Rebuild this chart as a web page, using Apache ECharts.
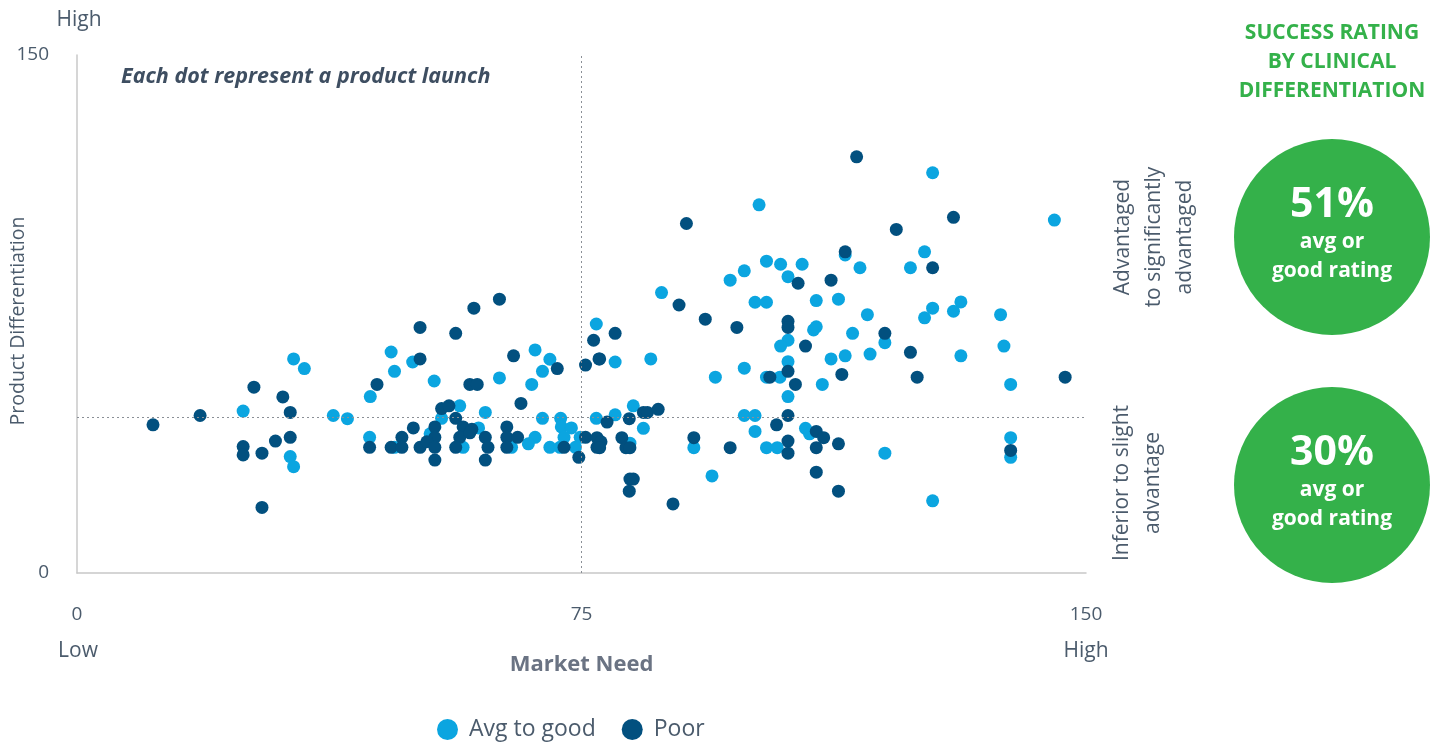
<!DOCTYPE html>
<html>
<head>
<meta charset="utf-8">
<script src="https://cdn.jsdelivr.net/npm/echarts@6/dist/echarts.min.js"></script>
<style>html,body{margin:0;padding:0;background:#fff;}#c{width:1446px;height:744px;}</style>
</head>
<body>
<div id="c"></div>
<script>
const xTicks = [0, 75, 150];
const yTicks = [0, 150];
const seriesNames = ['Avg to good', 'Poor'];
const refX = 75;
const refY = 45;
const ratings = ['51%', '30%'];
const zoneLabels = ['Advantaged\nto significantly\nadvantaged', 'Inferior to slight\nadvantage'];

const avgGood = [
 [32.2,62.0],[33.8,59.2],[24.7,46.9],[38.1,45.6],[40.2,44.7],[31.7,33.7],[32.2,30.8],[43.6,51.1],[43.5,39.3],
 [46.7,64.0],[49.9,61.1],[47.2,58.4],[68.1,64.6],[70.3,61.9],[69.2,58.4],[53.1,55.6],[62.8,56.5],[67.6,54.6],
 [56.9,48.4],[60.7,46.5],[54.2,44.8],[69.2,44.8],[71.9,44.8],[77.2,44.8],[77.2,72.1],[59.7,42.0],[72.0,42.3],
 [73.5,42.0],[52.5,40.3],[68.1,39.3],[72.4,39.3],[74.8,39.3],[47.2,36.4],[57.4,36.4],[64.6,36.4],[67.1,37.4],
 [70.3,36.4],[71.8,36.4],[74.1,36.4],
 [101.4,106.6],[102.5,90.3],[104.6,89.4],[107.8,89.4],[99.2,87.5],[97.1,84.8],[105.7,85.8],[86.9,81.2],
 [100.8,78.4],[102.5,78.4],[109.9,78.9],[109.5,70.4],[109.9,71.3],[105.7,67.4],[104.6,65.7],[80.0,61.1],
 [85.3,62.0],[99.2,59.3],[105.7,61.2],[94.9,56.7],[102.5,56.7],[104.5,56.7],
 [110.8,54.6],[105.7,51.1],[82.7,48.4],[80.0,45.8],[84.2,41.9],[99.2,45.6],[100.8,45.6],[100.8,41.0],
 [108.3,41.9],[108.9,40.3],[82.2,37.6],[91.7,36.3],[102.5,36.3],[104.1,36.3],[94.4,28.1],
 [127.2,115.9],[145.3,102.2],[114.2,92.1],[126.0,93.0],[116.4,88.4],[123.9,88.4],[113.2,79.3],[117.5,74.8],
 [127.2,76.7],[126.0,73.9],[131.4,78.5],[130.3,75.8],[137.3,74.8],[115.3,69.4],[120.1,66.7],[114.2,62.9],
 [112.1,62.0],[117.9,63.4],[131.4,62.9],[137.8,65.7],
 [138.8,54.6],[120.1,34.7],[138.8,39.2],[138.8,33.5],[127.2,20.9]
];

const poor = [
 [26.3,53.8],[30.6,51.0],[31.7,46.5],[18.3,45.6],[11.3,42.9],[31.7,39.3],[29.5,38.2],[24.7,36.6],[24.7,34.2],
 [27.5,34.7],[27.5,19.0],[43.5,36.4],[62.8,79.3],[59.0,76.7],[51.0,71.1],[56.3,69.4],[51.0,62.0],[64.9,62.9],
 [71.4,59.2],[44.6,54.6],[58.4,54.6],[59.5,54.6],[66.0,49.1],[54.2,47.6],[55.3,48.4],[56.3,44.8],[76.8,67.4],
 [77.6,62.0],[75.6,60.2],[50.0,42.0],[53.2,42.3],[57.4,42.3],[58.7,41.6],[63.9,42.3],[48.3,39.3],[53.2,39.3],
 [56.9,39.3],[58.4,40.6],[60.7,39.3],[63.9,39.3],[65.5,39.3],[75.6,39.3],[46.7,36.4],[48.3,36.4],[51.0,36.4],
 [52.0,38.0],[53.2,36.4],[56.3,36.4],[61.1,36.4],[63.9,36.4],[72.4,36.4],[77.3,36.4],[53.2,32.7],[60.7,32.7],
 [74.6,33.5],
 [90.6,101.2],[107.2,83.9],[89.5,77.6],[93.4,73.5],[98.1,71.1],[105.7,72.9],[105.7,71.1],[80.0,69.4],
 [108.3,65.7],[77.7,62.0],[105.7,58.4],[103.0,56.7],
 [106.8,54.6],[78.8,43.7],[82.1,44.7],[84.2,46.5],[84.8,46.5],[86.4,47.4],[105.7,45.6],[104.0,42.9],
 [109.9,41.0],[77.3,39.2],[77.9,38.0],[81.0,39.2],[77.7,36.3],[81.6,36.3],[82.2,36.3],[91.7,39.2],[97.1,36.3],
 [105.7,38.2],[105.7,34.7],[109.9,36.3],[109.9,29.2],[82.2,27.2],[82.7,27.2],[82.1,23.7],[88.6,20.0],
 [115.9,120.5],[130.3,103.0],[121.8,99.5],[114.2,93.0],[127.2,88.4],[112.1,84.8],[120.1,69.4],[123.9,63.9],
 [113.7,57.5],[124.9,56.7],[146.9,56.7],
 [111.0,39.2],[113.2,37.4],[138.8,35.5],[113.2,23.7]
];

const FONT = '"Open Sans", "Noto Sans", sans-serif';
const TXT = '#4b5b6c';
const GREEN = '#34b14a';
const LIGHT = '#0ba5e0';
const DARK = '#02507f';

const chart = echarts.init(document.getElementById('c'));

function circleGroup(cy, pct) {
  return [
    {type:'circle', shape:{cx:1332, cy:cy, r:98}, style:{fill:GREEN}},
    {type:'text', x:1332, y:cy-32, style:{text:pct, fill:'#fff', font:'bold 41px '+FONT, textAlign:'center', textVerticalAlign:'middle'}},
    {type:'text', x:1332, y:cy+5, style:{text:'avg or', fill:'#fff', font:'bold 21px '+FONT, textAlign:'center', textVerticalAlign:'middle'}},
    {type:'text', x:1332, y:cy+34, style:{text:'good rating', fill:'#fff', font:'bold 21px '+FONT, textAlign:'center', textVerticalAlign:'middle'}}
  ];
}

chart.setOption({
  animation: false,
  textStyle: {fontFamily: FONT},
  grid: {left: 77, right: 360, top: 55, bottom: 171, containLabel: false, outerBoundsMode: 'none'},
  xAxis: {
    type: 'value', min: xTicks[0], max: xTicks[2], interval: 75,
    name: 'Market Need', nameLocation: 'middle', nameGap: 81, nameMoveOverlap: false,
    nameTextStyle: {fontSize: 22, fontWeight: 'bold', color: '#6a7383', fontFamily: FONT},
    axisLine: {show: true, lineStyle: {color: '#c8c8c8', width: 1.5}},
    axisTick: {show: false},
    splitLine: {show: false},
    axisLabel: {fontSize: 19, color: TXT, margin: 32, fontFamily: FONT}
  },
  yAxis: {
    type: 'value', min: yTicks[0], max: yTicks[1], interval: 150,
    name: 'Product Differentiation', nameLocation: 'middle', nameGap: 49, nameRotate: 90, nameMoveOverlap: false,
    nameTextStyle: {fontSize: 19.5, color: TXT, fontFamily: FONT, padding: [0, 14, 0, 0]},
    axisLine: {show: true, lineStyle: {color: '#c8c8c8', width: 1.5}},
    axisTick: {show: false},
    splitLine: {show: false},
    axisLabel: {fontSize: 19, color: TXT, margin: 28, fontFamily: FONT}
  },
  legend: {
    bottom: -2, left: 432, itemGap: 26, itemWidth: 21, itemHeight: 21, icon: 'circle',
    textStyle: {fontSize: 23, color: TXT, fontFamily: FONT, padding: [0, 0, 0, 6]},
    data: seriesNames
  },
  series: [
    {
      name: seriesNames[0], type: 'scatter', data: avgGood, symbolSize: 13,
      itemStyle: {color: LIGHT, opacity: 1},
      markLine: {
        silent: true, symbol: 'none', animation: false,
        label: {show: false},
        lineStyle: {color: '#8a8f96', type: [2, 3], width: 1},
        data: [{xAxis: refX}, {yAxis: refY}]
      }
    },
    {name: seriesNames[1], type: 'scatter', data: poor, symbolSize: 13, itemStyle: {color: DARK, opacity: 1}}
  ],
  graphic: [
    {type:'text', x:121, y:77, style:{text:'Each dot represent a product launch', fill:'#3e4e61', font:'italic bold 21.5px '+FONT, textVerticalAlign:'middle'}},
    {type:'text', x:79, y:20, style:{text:'High', fill:TXT, font:'21px '+FONT, textAlign:'center', textVerticalAlign:'middle'}},
    {type:'text', x:78, y:651, style:{text:'Low', fill:TXT, font:'21px '+FONT, textAlign:'center', textVerticalAlign:'middle'}},
    {type:'text', x:1086, y:651, style:{text:'High', fill:TXT, font:'21px '+FONT, textAlign:'center', textVerticalAlign:'middle'}},
    {type:'text', x:1332, y:62, style:{text:'SUCCESS RATING\nBY CLINICAL\nDIFFERENTIATION', fill:GREEN, font:'bold 21px '+FONT, lineHeight:29, textAlign:'center', textVerticalAlign:'middle'}},
    {type:'text', x:1154, y:237, rotation:Math.PI/2, style:{text:zoneLabels[0], fill:TXT, font:'21px '+FONT, lineHeight:31, textAlign:'center', textVerticalAlign:'middle'}},
    {type:'text', x:1138, y:483, rotation:Math.PI/2, style:{text:zoneLabels[1], fill:TXT, font:'21px '+FONT, lineHeight:31, textAlign:'center', textVerticalAlign:'middle'}}
  ].concat(circleGroup(237, ratings[0]), circleGroup(485, ratings[1]))
});
</script>
</body>
</html>
